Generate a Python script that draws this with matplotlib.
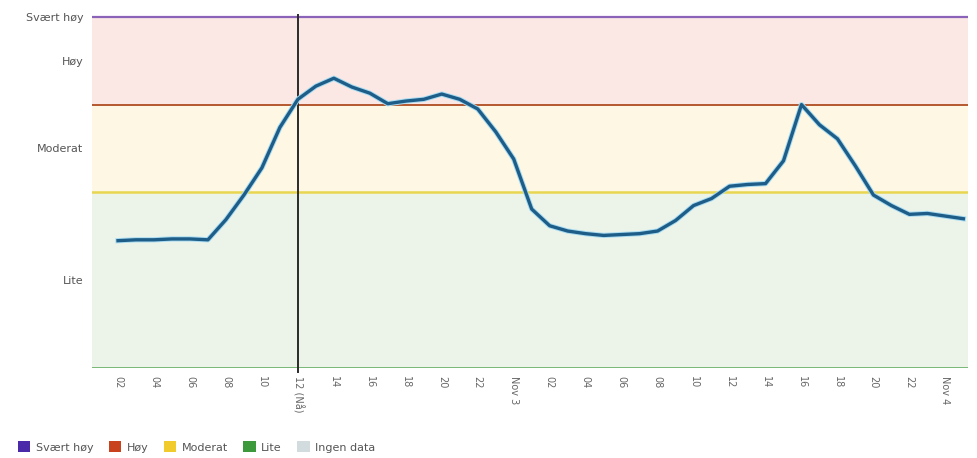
import matplotlib.pyplot as plt
import matplotlib.patheffects as pe
from matplotlib.patches import Patch
import numpy as np

# hours since Nov 2 00:00
hours = list(range(2, 50))
level = [1.45, 1.46, 1.46, 1.47, 1.47, 1.46, 1.69, 1.97, 2.28, 2.74,
         3.06, 3.21, 3.30, 3.20, 3.13, 3.01, 3.04, 3.06, 3.12, 3.06,
         2.95, 2.69, 2.38, 1.81, 1.62, 1.56, 1.53, 1.51, 1.52, 1.53,
         1.56, 1.68, 1.85, 1.93, 2.07, 2.09, 2.10, 2.36, 3.00, 2.77,
         2.61, 2.30, 1.97, 1.85, 1.75, 1.76, 1.73, 1.70]

tick_hours = list(range(2, 50, 2))
tick_labels = ['02', '04', '06', '08', '10', '12 (Nå)', '14', '16', '18', '20', '22', 'Nov 3',
               '02', '04', '06', '08', '10', '12', '14', '16', '18', '20', '22', 'Nov 4']
now_hour = 12

level_pos = [1, 2.5, 3.5, 4]
level_names = ['Lite', 'Moderat', 'Høy', 'Svært høy']

legend_names = ['Svært høy', 'Høy', 'Moderat', 'Lite', 'Ingen data']
legend_colors = ['#4a2aa8', '#c8421e', '#f1cb2c', '#3c9a3c', '#d2dcdf']

fig = plt.figure(figsize=(9.78, 4.58), dpi=100)
ax = fig.add_axes([0.094, 0.1965, 0.896, 0.7707])

xmin, xmax = 0.55, 49.27
ax.axhspan(0, 2, color='#ecf4ea', lw=0)
ax.axhspan(2, 3, color='#fdf7e4', lw=0)
ax.axhspan(3, 4, color='#fbe8e4', lw=0)

ax.axhline(4, color='#8a62b8', lw=1.6)
ax.axhline(3, color='#b5582f', lw=1.4)
ax.axhline(2, color='#e8d650', lw=1.8)
ax.axhline(0, color='#78b878', lw=1.4)

ax.axvline(now_hour, ymin=-0.01, ymax=1, color='#2a2a2a', lw=1.4, clip_on=False)

ax.plot(hours, level, color='#1d5d88', lw=2.4, solid_joinstyle='round',
        path_effects=[pe.Stroke(linewidth=3.8, foreground='#a9dcf2'), pe.Normal()])

ax.set_xlim(xmin, xmax)
ax.set_ylim(0, 4.02)
ax.set_xticks(tick_hours)
ax.set_xticklabels(tick_labels, rotation=-90, fontsize=7, color='#666666')
ax.set_yticks(level_pos)
ax.set_yticklabels(level_names, fontsize=8, color='#555555')
ax.tick_params(length=0, pad=6)
for s in ax.spines.values():
    s.set_visible(False)

handles = [Patch(facecolor=c, edgecolor='none') for c in legend_colors]
fig.legend(handles, legend_names, loc='lower left', bbox_to_anchor=(0.008, -0.01),
           ncol=5, frameon=False, fontsize=8, handlelength=1.1, handleheight=1.1,
           handletextpad=0.5, columnspacing=1.4, labelcolor='#555555')

fig.savefig('out.png', dpi=100)
